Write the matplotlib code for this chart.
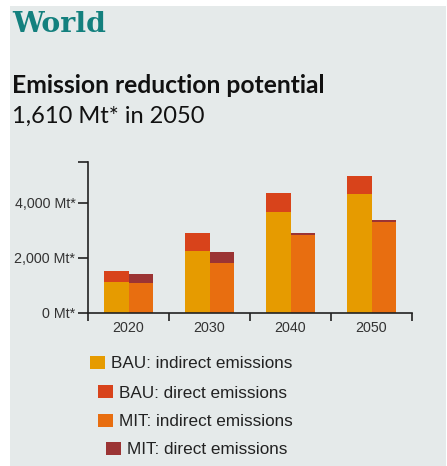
import numpy as np
import matplotlib
matplotlib.use('Agg')
import matplotlib.pyplot as plt
from matplotlib.patches import Rectangle

# data (Mt)
years = ['2020', '2030', '2040', '2050']
bau_indirect = [1116, 2255, 3650, 4305]
bau_direct = [411, 632, 714, 677]
mit_indirect = [1080, 1818, 2814, 3298]
mit_direct = [338, 389, 84, 62]
yticks = [0, 2000, 4000]
ytick_labels = ['0 Mt*', '2,000 Mt*', '4,000 Mt*']
series_labels = ['BAU: indirect emissions', 'BAU: direct emissions',
                 'MIT: indirect emissions', 'MIT: direct emissions']

c_bau_ind = '#e69b00'
c_bau_dir = '#d8431b'
c_mit_ind = '#e86e10'
c_mit_dir = '#9b3434'
bg = '#e5eaea'

W, H = 447, 466
fig = plt.figure(figsize=(W/100., H/100.), dpi=100)
fig.patch.set_facecolor('white')

def fx(px): return px/float(W)
def fy(py): return 1 - py/float(H)

# panel background
fig.add_artist(Rectangle((fx(10), 0), fx(446)-fx(10), fy(6), transform=fig.transFigure,
                         facecolor=bg, edgecolor='none', zorder=-10))

fig.text(fx(12), fy(32), 'World', family='DejaVu Serif', weight='bold', fontsize=20.3,
         color='#13807e', va='baseline')
fig.text(fx(12), fy(93), 'Emission reduction potential', family='Lato', weight='bold',
         fontsize=17.7, color='#111111', va='baseline')
fig.text(fx(12), fy(122.5), '1,610 Mt* in 2050', family='Lato', fontsize=17,
         color='#111111', va='baseline')

ax = fig.add_axes([fx(88), fy(312.7), fx(412)-fx(88), fy(161.5)-fy(312.7)])
ax.set_facecolor('none')

x = np.arange(len(years))
w = 0.30
ax.bar(x - w/2, bau_indirect, w, color=c_bau_ind, linewidth=0)
ax.bar(x - w/2, bau_direct, w, bottom=bau_indirect, color=c_bau_dir, linewidth=0)
ax.bar(x + w/2, mit_indirect, w, color=c_mit_ind, linewidth=0)
ax.bar(x + w/2, mit_direct, w, bottom=mit_indirect, color=c_mit_dir, linewidth=0)

ax.set_xlim(-0.5, len(years) - 0.5)
ax.set_ylim(0, 5500)
ax.spines['top'].set_visible(False)
ax.spines['right'].set_visible(False)
for s in ['left', 'bottom']:
    ax.spines[s].set_color('#222222')
    ax.spines[s].set_linewidth(1.2)
ax.spines['left'].set_bounds(0, 5500)

ax.set_xticks(x)
ax.set_xticklabels(years, family='Liberation Sans', fontsize=10.3, color='#333333')
ax.set_xticks(np.arange(-0.5, len(years)), minor=True)
ax.tick_params(axis='x', which='major', length=0, pad=6)
ax.tick_params(axis='x', which='minor', length=6, width=1.2, color='#222222', direction='out')

ax.set_yticks(yticks)
ax.set_yticklabels(ytick_labels, family='Liberation Sans', fontsize=10.3, color='#333333')
ax.set_yticks([5500], minor=True)
ax.tick_params(axis='y', which='both', length=7, width=1.2, color='#222222', direction='out', pad=2)

# legend, staggered as in the original
colors = [c_bau_ind, c_bau_dir, c_mit_ind, c_mit_dir]
sq_x = [90, 97.7, 97.7, 105.7]
txt_x = [111, 119, 119, 126.7]
y_mid = [362.5, 391.5, 420, 448.5]
for i in range(4):
    fig.add_artist(Rectangle((fx(sq_x[i]), fy(y_mid[i] + 6.5)), fx(15), 13/float(H),
                             transform=fig.transFigure, facecolor=colors[i], edgecolor='none'))
    fig.text(fx(txt_x[i]), fy(y_mid[i]), series_labels[i], family='Liberation Sans',
             fontsize=12.3, color='#222222', va='center_baseline')

fig.savefig('out.png', dpi=100)
